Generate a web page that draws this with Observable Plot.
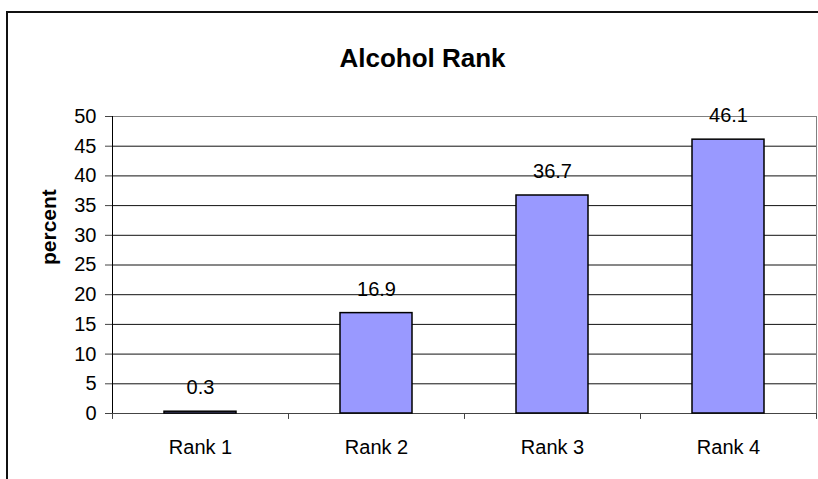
<!DOCTYPE html>
<html><head><meta charset="utf-8">
<script src="https://cdn.jsdelivr.net/npm/d3@7"></script>
<script src="https://cdn.jsdelivr.net/npm/@observablehq/plot@0.6"></script>
<style>
body{margin:0;background:#fff;}
#wrap{position:relative;width:818px;height:479px;overflow:hidden;}
#border{position:absolute;left:6px;top:11px;width:900px;height:600px;border:2px solid #111;box-sizing:border-box;}
#wrap svg{position:absolute;left:0;top:0;}
</style></head><body><div id="wrap"><div id="border"></div></div>
<script>
const categories = ["Rank 1", "Rank 2", "Rank 3", "Rank 4"];
const values = [0.3, 16.9, 36.7, 46.1];
const yTicks = [0, 5, 10, 15, 20, 25, 30, 35, 40, 45, 50];
const gridValues = [5, 10, 15, 20, 25, 30, 35, 40, 45];
const titleText = "Alcohol Rank";
const yLabelText = "percent";

const data = categories.map((rank, i) => ({rank, value: values[i]}));

const W = 818, H = 479;
const mL = 112, mR = 2, mT = 116, mB = 66;
const band = (W - mL - mR) / categories.length;
const barWidth = 72;
const inset = (band - barWidth) / 2;

const chart = Plot.plot({
  width: W,
  height: H,
  marginLeft: mL,
  marginRight: mR,
  marginTop: mT,
  marginBottom: mB,
  style: {background: "transparent", fontFamily: "'Liberation Sans', Arial, sans-serif", fontSize: "20px", color: "#000", overflow: "visible"},
  x: {domain: categories, padding: 0},
  y: {domain: [0, 50]},
  marks: [
    Plot.frame({stroke: "#808080"}),
    Plot.ruleY(gridValues, {stroke: "#111", strokeWidth: 1}),
    Plot.ruleY([0], {stroke: "#444", strokeWidth: 1}),
    Plot.ruleX([categories[0]], {dx: -band / 2, y1: 0, y2: 50, stroke: "#000"}),
    Plot.ruleX(categories, {dx: -band / 2, y1: 0, y2: -1, stroke: "#444"}),
    Plot.ruleX([categories[categories.length - 1]], {dx: band / 2, y1: 0, y2: -1, stroke: "#444"}),
    Plot.axisY(yTicks, {tickSize: 7, tickPadding: 9, fontSize: 20, label: null, stroke: "#444"}),
    Plot.axisX({tickSize: 0, tickPadding: 26, fontSize: 20, label: null}),
    Plot.barY(data, {x: "rank", y: "value", fill: "#9999ff", stroke: "#000", strokeWidth: 1.5, insetLeft: inset, insetRight: inset}),
    Plot.text(data, {x: "rank", y: "value", text: d => d.value.toFixed(1), dy: -24, fontSize: 20, fill: "#000"}),
    Plot.text([titleText], {frameAnchor: "top", text: d => d, dx: -42, dy: -68, fontSize: 26, fontWeight: "bold", fill: "#000"}),
    Plot.text([yLabelText], {frameAnchor: "left", text: d => d, dx: -63, rotate: -90, fontSize: 21, fontWeight: "bold", fill: "#000"})
  ]
});
document.getElementById("wrap").appendChild(chart);
</script>
</body></html>
